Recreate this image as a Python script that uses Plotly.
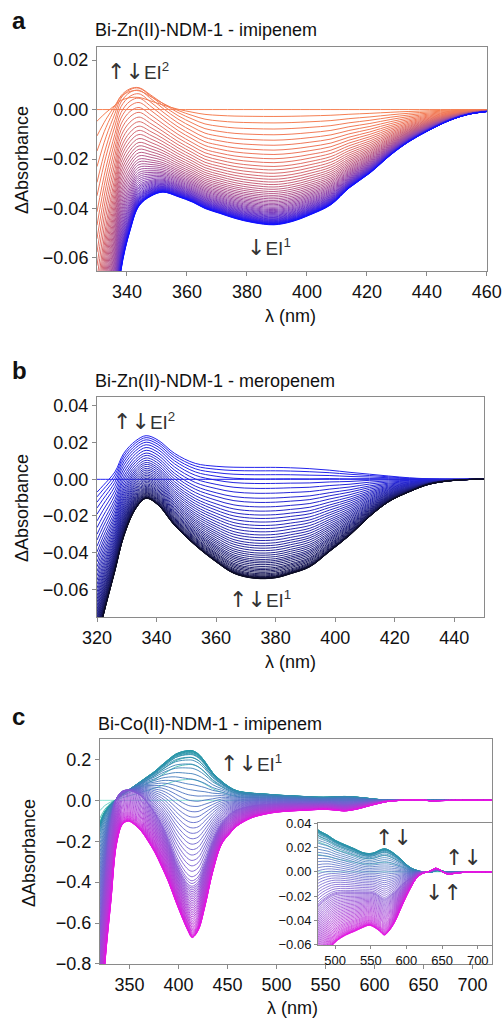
import numpy as np
import plotly.graph_objects as go

# ---------------- panel a : Bi-Zn(II)-NDM-1 - imipenem ----------------
wl_a = [330, 333, 336, 338, 341, 344, 348, 352, 357, 362, 366, 371, 376,
        382, 389, 395, 401, 408, 414, 421, 428, 434, 441, 448, 454, 460]
# EI1 difference spectrum, substrate loss, EI2 bump
dip_a = [-0.010, -0.011, -0.013, -0.015, -0.020, -0.025, -0.031, -0.0334, -0.0352,
         -0.0375, -0.040, -0.042, -0.044, -0.0457, -0.0466, -0.0453, -0.0426,
         -0.0385, -0.0318, -0.0257, -0.0183, -0.0130, -0.0082, -0.0042, -0.0019, -0.0008]
sub_a = [-0.20, -0.13, -0.08, -0.050, -0.029, -0.014, -0.004] + [0.0] * 19
bump_a = [0.002, 0.006, 0.010, 0.013, 0.015, 0.015, 0.012, 0.0085, 0.005, 0.0025,
          0.001, 0.0003] + [0.0] * 14
# amount of each species in every recorded spectrum
w_dip_a = [0, 0.06, 0.116, 0.169, 0.219, 0.266, 0.31, 0.352, 0.39, 0.427,
           0.461, 0.494, 0.524, 0.553, 0.58, 0.605, 0.629, 0.651, 0.672, 0.692,
           0.711, 0.728, 0.745, 0.76, 0.775, 0.789, 0.802, 0.814, 0.826, 0.837,
           0.848, 0.858, 0.868, 0.877, 0.886, 0.894, 0.902, 0.91, 0.917, 0.924,
           0.931, 0.937, 0.943, 0.949, 0.954, 0.959, 0.964, 0.969, 0.973, 0.977,
           0.981, 0.985, 0.988, 0.991, 0.994, 0.997, 1.0]
w_sub_a = [0, 0.025, 0.055, 0.085, 0.115, 0.145, 0.17, 0.2, 0.225, 0.25,
           0.275, 0.3, 0.325, 0.35, 0.37, 0.39, 0.41, 0.43, 0.45, 0.47,
           0.49, 0.51, 0.53, 0.55, 0.57, 0.59, 0.61, 0.63, 0.65, 0.67,
           0.69, 0.71, 0.73, 0.75, 0.77, 0.79, 0.81, 0.83, 0.85, 0.87,
           0.88, 0.89, 0.9, 0.91, 0.92, 0.93, 0.94, 0.95, 0.96, 0.965,
           0.97, 0.975, 0.98, 0.985, 0.99, 0.995, 1.0]
w_bump_a = [0, 0.45, 0.75, 0.95, 1.05, 1.1, 1.1, 1.08, 1.05, 1.0,
            0.95, 0.9, 0.85, 0.8, 0.75, 0.7, 0.65, 0.6, 0.56, 0.52,
            0.48, 0.44, 0.4, 0.37, 0.34, 0.31, 0.28, 0.25, 0.23, 0.21,
            0.19, 0.17, 0.15, 0.13, 0.12, 0.11, 0.1, 0.09, 0.08, 0.07,
            0.06, 0.05, 0.045, 0.04, 0.035, 0.03, 0.025, 0.02, 0.016, 0.012,
            0.009, 0.006, 0.004, 0.002, 0.001, 0, 0]

# ---------------- panel b : Bi-Zn(II)-NDM-1 - meropenem ----------------
wl_b = [320, 322, 326, 329, 333, 336.5, 340.5, 346, 353, 360, 366, 373, 380,
        385, 391.5, 398, 405, 411.5, 418, 425, 431.5, 438.5, 445, 450]
final_b = [-0.090, -0.075, -0.050, -0.031, -0.016, -0.0104, -0.014, -0.025, -0.036,
           -0.045, -0.0513, -0.054, -0.0537, -0.0515, -0.0477, -0.0395, -0.0304,
           -0.0204, -0.0122, -0.0067, -0.0027, -0.0008, -0.0001, 0.0]
early_b = [-0.007, -0.0035, 0.004, 0.0142, 0.021, 0.0238, 0.0214, 0.0142, 0.0087,
           0.0071, 0.0066, 0.0065, 0.0065, 0.0063, 0.0058, 0.005, 0.0038, 0.0028,
           0.0018, 0.0008, 0.0003, 0.0001, 0.0, 0.0]
w_final_b = [0, 0, 0.031, 0.066, 0.104, 0.145, 0.189, 0.233, 0.277, 0.315, 0.355,
             0.393, 0.428, 0.459, 0.491, 0.522, 0.55, 0.579, 0.607, 0.632, 0.657,
             0.682, 0.704, 0.726, 0.748, 0.77, 0.789, 0.808, 0.827, 0.843, 0.858,
             0.874, 0.89, 0.906, 0.918, 0.931, 0.943, 0.956, 0.966, 0.975, 0.982,
             0.987, 0.991, 0.994, 0.996, 0.998, 0.999, 1.0]
w_early_b = [0, 1, 0.969, 0.934, 0.896, 0.855, 0.811, 0.767, 0.723, 0.685, 0.645,
             0.607, 0.572, 0.541, 0.509, 0.478, 0.45, 0.421, 0.393, 0.368, 0.343,
             0.318, 0.296, 0.274, 0.252, 0.23, 0.211, 0.192, 0.173, 0.157, 0.142,
             0.126, 0.11, 0.094, 0.082, 0.069, 0.057, 0.044, 0.034, 0.025, 0.018,
             0.013, 0.009, 0.006, 0.004, 0.002, 0.001, 0]

# ---------------- panel c : Bi-Co(II)-NDM-1 - imipenem ----------------
wl_c = [320, 325, 331, 337, 343, 349, 355, 362, 369, 376,
        383, 390, 397, 404, 410, 414, 420, 427, 435, 444,
        452, 460, 475, 490, 500, 515, 527, 538, 548, 556,
        563, 569, 575, 583, 593, 600, 607, 613, 618, 624,
        630, 636, 641, 646, 651, 656, 660, 668, 676, 690,
        705, 720]
pos_c = [-0.12, -0.06, -0.02, 0.008, 0.03, 0.05, 0.07, 0.094, 0.118, 0.142,
         0.172, 0.20, 0.225, 0.238, 0.243, 0.243, 0.228, 0.19, 0.135, 0.094,
         0.065, 0.046, 0.035, 0.030, 0.026, 0.022, 0.019, 0.016, 0.015, 0.016,
         0.018, 0.019, 0.018, 0.015, 0.010, 0.006, 0.003, 0.0015, 0.0005, 0.0,
         -0.0005, 0.0, 0.001, 0.001, 0.0005, 0.0, 0.0, 0.0, 0.0, 0.0,
         0.0, 0.0]
mid_c = [-0.65, -0.40, -0.12, 0.01, 0.045, 0.05, 0.04, 0.02, -0.02, -0.07,
         -0.13, -0.21, -0.30, -0.37, -0.41, -0.42, -0.40, -0.32, -0.21, -0.12,
         -0.075, -0.05, -0.03, -0.022, -0.019, -0.018, -0.018, -0.018, -0.018, -0.019,
         -0.022, -0.024, -0.022, -0.018, -0.012, -0.008, -0.005, -0.002, -0.0008, 0.0,
         0.0, 0.001, 0.002, 0.0015, 0.0, -0.001, -0.0012, -0.0008, -0.0004, 0.0,
         0.0, 0.0]
final_c = [-1.2, -0.80, -0.50, -0.21, -0.117, -0.102, -0.118, -0.15, -0.199, -0.255,
           -0.325, -0.40, -0.49, -0.575, -0.64, -0.671, -0.638, -0.52, -0.35, -0.215,
           -0.165, -0.125, -0.085, -0.066, -0.058, -0.052, -0.049, -0.046, -0.044, -0.046,
           -0.049, -0.052, -0.049, -0.042, -0.029, -0.020, -0.012, -0.006, -0.003, -0.001,
           0.0, 0.0015, 0.003, 0.002, 0.0, -0.0015, -0.002, -0.0012, -0.0007, 0.0,
           0.0, 0.0]
w_pos_c = [0, 0.42, 0.72, 0.86, 0.93, 0.96, 0.98, 0.99, 1.0, 1.0,
           1.0, 0.99, 0.98, 0.97, 0.95, 0.93, 0.9, 0.87, 0.83, 0.79,
           0.75, 0.71, 0.67, 0.63, 0.59, 0.55, 0.51, 0.47, 0.43, 0.39,
           0.35, 0.31, 0.27, 0.23, 0.19, 0.15, 0.11, 0.07, 0.04, 0.02,
           0] + [0.0] * 36
w_mid_c = [0.0] * 11 + [0.01, 0.02, 0.03, 0.05, 0.07, 0.1, 0.13, 0.17, 0.21,
                        0.25, 0.29, 0.33, 0.37, 0.41, 0.45, 0.49, 0.53, 0.57, 0.61,
                        0.65, 0.69, 0.73, 0.77, 0.81, 0.85, 0.89, 0.93, 0.96, 0.98,
                        1.0,
                        0.965, 0.93, 0.895, 0.86, 0.825, 0.79, 0.755, 0.72, 0.685, 0.65,
                        0.615, 0.58, 0.545, 0.51, 0.475, 0.44, 0.405, 0.37, 0.335, 0.3,
                        0.27, 0.24, 0.21, 0.18, 0.155, 0.13, 0.105, 0.085, 0.065, 0.05,
                        0.035, 0.025, 0.015, 0.008, 0.003, 0.0]
w_final_c = [0.0] * 41 + [0.035, 0.07, 0.105, 0.14, 0.175, 0.21, 0.245, 0.28, 0.315, 0.35,
                          0.385, 0.42, 0.455, 0.49, 0.525, 0.56, 0.595, 0.63, 0.665, 0.7,
                          0.73, 0.76, 0.79, 0.82, 0.845, 0.87, 0.895, 0.915, 0.935, 0.95,
                          0.965, 0.975, 0.985, 0.992, 0.997, 1.0]

assert len(w_dip_a) == len(w_sub_a) == len(w_bump_a)
assert len(w_final_b) == len(w_early_b)
assert len(w_pos_c) == len(w_mid_c) == len(w_final_c)


def spectra(weights, shapes):
    out = np.zeros((len(weights[0]), len(shapes[0])))
    for w, s in zip(weights, shapes):
        out += np.outer(w, s)
    return out


def ramp(stops, k):
    for (k0, c0), (k1, c1) in zip(stops[:-1], stops[1:]):
        if k0 <= k <= k1:
            t = (k - k0) / (k1 - k0)
            c = [round(c0[i] + (c1[i] - c0[i]) * t) for i in range(3)]
            return "rgb(%d,%d,%d)" % tuple(c)
    return "rgb(%d,%d,%d)" % stops[-1][1]


spec_a = spectra([w_dip_a, w_sub_a, w_bump_a], [dip_a, sub_a, bump_a])
spec_b = spectra([w_final_b, w_early_b], [final_b, early_b])
spec_c = spectra([w_pos_c, w_mid_c, w_final_c], [pos_c, mid_c, final_c])

cols_a = [(0, (246, 128, 82)), (8, (238, 118, 92)), (18, (196, 98, 128)),
          (32, (140, 72, 180)), (56, (15, 15, 255))]
cols_b = [(0, (35, 35, 240)), (20, (40, 40, 170)), (47, (12, 12, 35))]
cols_c = [(0, (125, 226, 206)), (1, (95, 206, 192)), (3, (35, 165, 158)), (10, (40, 150, 168)),
          (20, (70, 120, 190)), (30, (105, 100, 205)), (40, (135, 85, 210)),
          (60, (185, 55, 215)), (76, (230, 20, 226))]

fig = go.Figure()
for k, y in enumerate(spec_a):
    fig.add_trace(go.Scatter(x=wl_a, y=y, mode="lines", line=dict(color=ramp(cols_a, k), width=1, shape="spline"),
                             showlegend=False, hoverinfo="skip", xaxis="x", yaxis="y"))
for k, y in enumerate(spec_b):
    fig.add_trace(go.Scatter(x=wl_b, y=y, mode="lines", line=dict(color=ramp(cols_b, k), width=1, shape="spline"),
                             showlegend=False, hoverinfo="skip", xaxis="x2", yaxis="y2"))
for k, y in enumerate(spec_c):
    fig.add_trace(go.Scatter(x=wl_c, y=y, mode="lines", line=dict(color=ramp(cols_c, k), width=0.9, shape="spline"),
                             showlegend=False, hoverinfo="skip", xaxis="x3", yaxis="y3"))
for k, y in enumerate(spec_c):
    fig.add_trace(go.Scatter(x=wl_c, y=y, mode="lines", line=dict(color=ramp(cols_c, k), width=0.8, shape="spline"),
                             showlegend=False, hoverinfo="skip", xaxis="x4", yaxis="y4"))

W, H = 502, 1019
FONT = "Liberation Sans, Arial, Helvetica, sans-serif"


def px(x):
    return x / W


def py(y):
    return 1 - y / H


def lab(v, nd):
    s = f"{abs(v):.{nd}f}"
    return ("\u2212" + s) if v < 0 else s


def axis(dom, rng, tv, nd=None, size=18, tl=4, anchor=None):
    d = dict(domain=dom, range=rng, showline=True, linecolor="#8a8a8a", linewidth=1, mirror=True,
             ticks="outside", ticklen=tl, tickcolor="#8a8a8a", showgrid=False, zeroline=False,
             automargin=False, anchor=anchor,
             tickvals=tv, tickfont=dict(size=size, color="#111", family=FONT), fixedrange=True)
    if nd is not None:
        d["ticktext"] = [lab(v, nd) for v in tv]
    else:
        d["ticktext"] = [str(v) for v in tv]
    return d


ya_ticks = [0.02, 0.0, -0.02, -0.04, -0.06]
yb_ticks = [0.04, 0.02, 0.0, -0.02, -0.04, -0.06]
yc_ticks = [0.2, 0.0, -0.2, -0.4, -0.6, -0.8]
yi_ticks = [0.04, 0.02, 0.0, -0.02, -0.04, -0.06]

fig.update_layout(
    template="none",
    width=W, height=H, margin=dict(l=0, r=0, t=0, b=0, pad=0),
    paper_bgcolor="white", plot_bgcolor="white",
    font=dict(family=FONT, color="#111"),
    xaxis=axis([px(97), px(487)], [330, 460.05], list(range(340, 461, 20)), anchor="y"),
    yaxis=axis([py(271), py(47)], [-0.0653, 0.0253], ya_ticks, 2, anchor="x"),
    xaxis2=axis([px(97), px(484)], [320, 450], list(range(320, 441, 20)), anchor="y2"),
    yaxis2=axis([py(617), py(397)], [-0.0751, 0.0449], yb_ticks, 2, anchor="x2"),
    xaxis3=axis([px(100), px(492)], [320, 720], list(range(350, 701, 50)), anchor="y3"),
    yaxis3=axis([py(964), py(739)], [-0.8005, 0.30], yc_ticks, 1, anchor="x3"),
    xaxis4=axis([px(318), px(492)], [476, 720], list(range(500, 701, 50)), size=13, tl=3, anchor="y4"),
    yaxis4=axis([py(945), py(823)], [-0.0602, 0.0402], yi_ticks, 2, size=13, tl=3, anchor="x4"),
)

ann = []


def text(x, y, s, size=18, xanchor="left", bold=False, angle=0, color="#111"):
    if bold:
        s = "<b>" + s + "</b>"
    ann.append(dict(x=px(x), y=py(y), xref="paper", yref="paper", text=s, showarrow=False,
                    xanchor=xanchor, yanchor="middle", textangle=angle,
                    font=dict(size=size, family=FONT, color=color)))


# panel letters and titles
text(10, 21, "a", 24, bold=True)
text(10, 370, "b", 24, bold=True)
text(10, 716, "c", 24, bold=True)
text(93, 30, "Bi-Zn(II)-NDM-1 - imipenem")
text(93, 381, "Bi-Zn(II)-NDM-1 - meropenem")
text(96, 724, "Bi-Co(II)-NDM-1 - imipenem")
# axis titles
text(22, 160, "\u0394Absorbance", 18, xanchor="center", angle=-90)
text(22, 508, "\u0394Absorbance", 18, xanchor="center", angle=-90)
text(29, 853, "\u0394Absorbance", 18, xanchor="center", angle=-90)
text(290, 316, "\u03bb (nm)", 18, xanchor="center")
text(290, 662, "\u03bb (nm)", 18, xanchor="center")
text(292, 1008, "\u03bb (nm)", 18, xanchor="center")
# species labels (arrows set in DejaVu for a heavier glyph)
AR = "#333"


def arr(s):
    return '<span style="font-family:DejaVu Sans;font-size:22px">' + s + "</span>"


text(105, 72, arr("\u2191\u2193") + "EI<sup>2</sup>", 19, color=AR)
text(245, 247, arr("\u2193") + "EI<sup>1</sup>", 19, color=AR)
text(111, 421, arr("\u2191\u2193") + "EI<sup>2</sup>", 19, color=AR)
text(227, 599, arr("\u2191\u2193") + "EI<sup>1</sup>", 19, color=AR)
text(218, 763, arr("\u2191\u2193") + "EI<sup>1</sup>", 19, color=AR)
text(373, 837, arr("\u2191\u2193"), 19, color=AR)
text(443, 857, arr("\u2191\u2193"), 19, color=AR)
text(423, 892, arr("\u2193\u2191"), 19, color=AR)
fig.update_layout(annotations=ann)

# page body margin would otherwise push the 502x1019 figure past the window
fig.write_html("out.html", config={"displayModeBar": False},
               post_script="document.body.style.margin='0px';")
